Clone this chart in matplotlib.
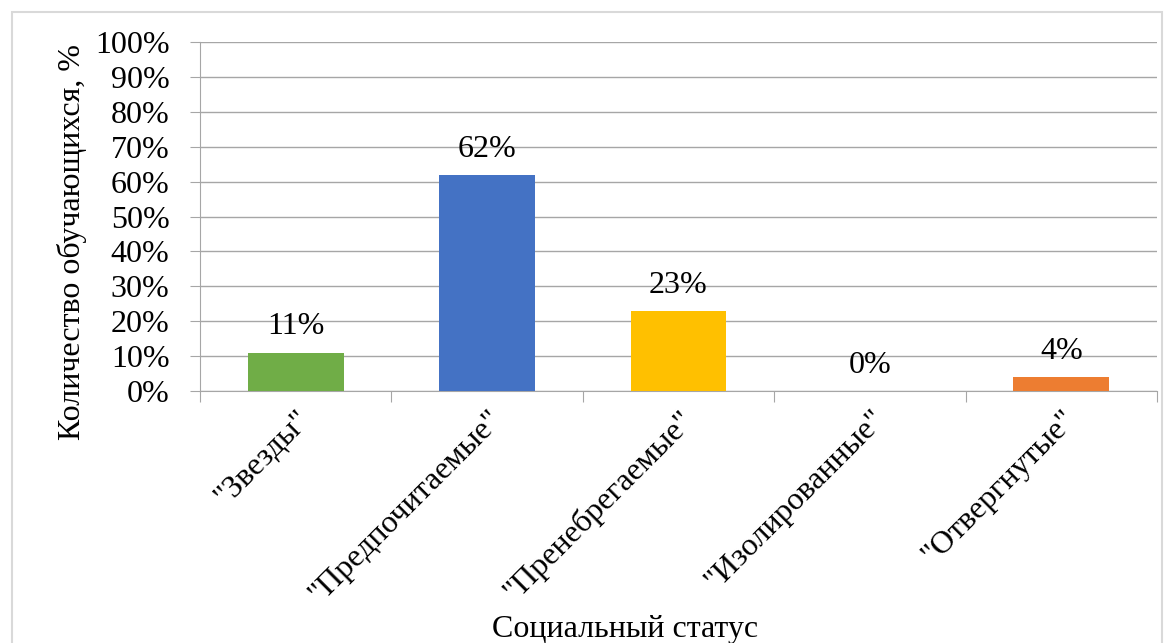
import numpy as np
import matplotlib.pyplot as plt
from matplotlib.patches import Rectangle

# данные
categories = ['"Звезды"', '"Предпочитаемые"', '"Пренебрегаемые"', '"Изолированные"', '"Отвергнутые"']
values = [11, 62, 23, 0, 4]
colors = ["#70AD47", "#4472C4", "#FFC000", "#A5A5A5", "#ED7D31"]

plt.rcParams['font.family'] = ['Liberation Serif', 'DejaVu Serif']
fs = 23

fig = plt.figure(figsize=(11.68, 6.43), dpi=100)
ax = fig.add_axes([200 / 1168, 1 - 391 / 643, 957 / 1168, 349 / 643])

x = np.arange(len(categories))
ax.bar(x, values, width=0.5, color=colors, zorder=3)

for xi, v in zip(x, values):
    ax.annotate(f"{v}%", (xi, v), xytext=(0, 8), textcoords="offset points",
                ha="center", va="bottom", fontsize=fs, zorder=4)

ax.set_xlim(-0.5, len(categories) - 0.5)
ax.set_ylim(0, 100)
ax.set_yticks(np.arange(0, 101, 10))
ax.set_yticklabels([f"{t}%" for t in range(0, 101, 10)], fontsize=fs)
ax.yaxis.grid(True, color="#A6A6A6", linewidth=1, zorder=0)
ax.tick_params(axis="y", length=7, color="#A6A6A6", pad=15)

ax.set_xticks(np.arange(-0.5, len(categories), 1.0))
ax.set_xticklabels([])
ax.set_xticks(x, minor=True)
ax.set_xticklabels(categories, minor=True, rotation=45, ha="right",
                   rotation_mode="anchor", fontsize=fs)
ax.tick_params(axis="x", which="major", length=8, color="#A6A6A6")
ax.tick_params(axis="x", which="minor", length=0, pad=10)

for s in ["top", "right"]:
    ax.spines[s].set_visible(False)
ax.spines["left"].set_color("#A6A6A6")
ax.spines["bottom"].set_color("#A6A6A6")

ax.set_ylabel("Количество обучающихся, %", fontsize=fs, va="center")
ax.yaxis.set_label_coords((72 - 200) / 957, (391 - 242) / 349)
ax.set_xlabel("Социальный статус", fontsize=fs, va="center")
ax.xaxis.set_label_coords((625 - 200) / 957, -(630 - 391) / 349)

fig.patches.append(Rectangle((12 / 1168, -0.01), 1150 / 1168, 1 - 12 / 643 + 0.01,
                             transform=fig.transFigure, fill=False,
                             edgecolor="#D9D9D9", linewidth=1.5))

fig.savefig("out.png", dpi=100)
